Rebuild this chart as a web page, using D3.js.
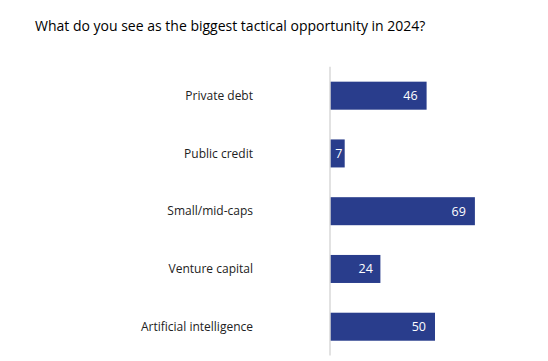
<!DOCTYPE html>
<html>
<head>
<meta charset="utf-8">
<script src="https://cdn.jsdelivr.net/npm/d3@7"></script>
<style>
  body { margin: 0; background: #fff; }
  svg text { font-family: "Open Sans", "Noto Sans", sans-serif; }
</style>
</head>
<body>
<div id="chart"></div>
<script>
var categories = ["Private debt", "Public credit", "Small/mid-caps", "Venture capital", "Artificial intelligence"];
var values = [46, 7, 69, 24, 50];
var titleText = "What do you see as the biggest tactical opportunity in 2024?";

var svg = d3.select("#chart")
    .append("svg")
    .attr("width", 548)
    .attr("height", 361);

svg.append("rect").attr("width", 548).attr("height", 361).attr("fill", "#fff");

var data = categories.map(function(c, i) { return {cat: c, val: values[i]}; });

var x = d3.scaleLinear().domain([0, 100]).range([330, 540]);
var y = d3.scaleBand()
    .domain(categories)
    .range([66.8, 355.6])
    .paddingInner(0.515)
    .paddingOuter(0.2575);

// title
svg.append("text")
    .attr("x", 35)
    .attr("y", 31)
    .attr("font-size", 14)
    .attr("font-weight", 500)
    .attr("fill", "#000")
    .text(titleText);

// bars
svg.selectAll("rect.bar")
    .data(data)
    .enter()
    .append("rect")
    .attr("class", "bar")
    .attr("x", x(0))
    .attr("y", function(d) { return y(d.cat); })
    .attr("width", function(d) { return x(d.val) - x(0); })
    .attr("height", y.bandwidth())
    .attr("fill", "#293d8c");

// axis line
svg.append("line")
    .attr("x1", x(0)).attr("x2", x(0))
    .attr("y1", y.range()[0]).attr("y2", y.range()[1])
    .attr("stroke", "#d9d9d9")
    .attr("stroke-width", 1.5);

// category labels
svg.selectAll("text.cat")
    .data(data)
    .enter()
    .append("text")
    .attr("class", "cat")
    .attr("x", 253)
    .attr("y", function(d) { return y(d.cat) + y.bandwidth() / 2; })
    .attr("dy", "0.35em")
    .attr("text-anchor", "end")
    .attr("font-size", 12)
    .attr("fill", "#222")
    .text(function(d) { return d.cat; });

// value labels
svg.selectAll("text.val")
    .data(data)
    .enter()
    .append("text")
    .attr("class", "val")
    .attr("x", function(d) {
        var w = x(d.val) - x(0);
        return x(d.val) - Math.min(9, w * 0.15);
    })
    .attr("y", function(d) { return y(d.cat) + y.bandwidth() / 2; })
    .attr("dy", "0.35em")
    .attr("text-anchor", "end")
    .attr("font-size", 12.5)
    .attr("fill", "#fff")
    .text(function(d) { return d.val; });
</script>
</body>
</html>
